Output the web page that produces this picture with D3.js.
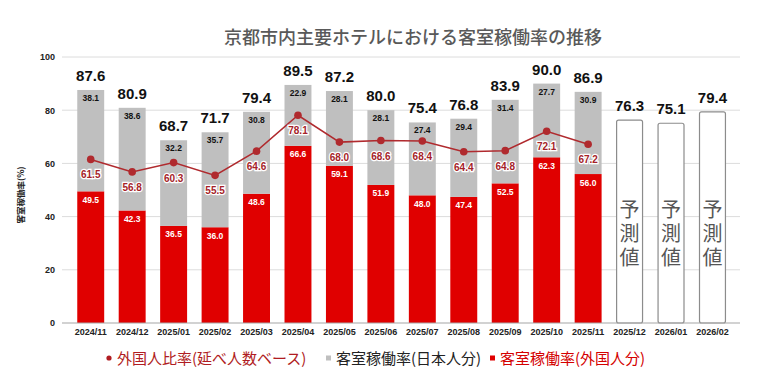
<!DOCTYPE html>
<html><head><meta charset="utf-8">
<script src="https://cdn.jsdelivr.net/npm/d3@7"></script>
<style>
body{margin:0;background:#fff;}
svg{display:block;font-family:"Liberation Sans","Noto Sans CJK JP",sans-serif;}
.jp{font-family:"Noto Sans CJK JP","Noto Sans",sans-serif;}
</style></head>
<body>
<svg id="c" width="784" height="388"></svg>
<script>
const categories = ["2024/11","2024/12","2025/01","2025/02","2025/03","2025/04","2025/05","2025/06","2025/07","2025/08","2025/09","2025/10","2025/11","2025/12","2026/01","2026/02"];
const foreignOcc = [49.5,42.3,36.5,36.0,48.6,66.6,59.1,51.9,48.0,47.4,52.5,62.3,56.0,null,null,null];
const japaneseOcc = [38.1,38.6,32.2,35.7,30.8,22.9,28.1,28.1,27.4,29.4,31.4,27.7,30.9,null,null,null];
const totalOcc = [87.6,80.9,68.7,71.7,79.4,89.5,87.2,80.0,75.4,76.8,83.9,90.0,86.9,76.3,75.1,79.4];
const foreignRatio = [61.5,56.8,60.3,55.5,64.6,78.1,68.0,68.6,68.4,64.4,64.8,72.1,67.2,null,null,null];
const yTicks = [0,20,40,60,80,100];
const title = "京都市内主要ホテルにおける客室稼働率の推移";
const yLabel = "客室稼働率(%)";
const forecastText = "予測値";
const legendItems = ["外国人比率(延べ人数ベース)","客室稼働率(日本人分)","客室稼働率(外国人分)"];

const RED = "#e00000", GREY = "#bfbfbf", LINE = "#b02a2e";
const svg = d3.select("#c");
const x = d3.scaleBand().domain(categories).range([70, 733.2]).paddingInner(0.35).paddingOuter(0.175);
const y = d3.scaleLinear().domain([0,100]).range([323,57]);
const bw = x.bandwidth();
const cx = c => x(c) + bw/2;

// title
svg.append("text").attr("class","jp").attr("x",413).attr("y",44).attr("text-anchor","middle")
  .attr("font-size",18).attr("font-weight",500).attr("fill","#595959").text(title);

// gridlines
svg.append("g").selectAll("line").data(yTicks.filter(t=>t>0)).join("line")
  .attr("x1",62).attr("x2",740).attr("y1",d=>y(d)).attr("y2",d=>y(d))
  .attr("stroke","#dcdcdc").attr("stroke-width",1);

// y axis
const ya = svg.append("g").attr("transform","translate(62,0)")
  .call(d3.axisLeft(y).tickValues(yTicks).tickSize(0).tickPadding(7));
ya.select(".domain").remove();
ya.selectAll("text").attr("font-size",9).attr("font-weight","bold").attr("fill","#222")
  .attr("font-family","Liberation Sans");

svg.append("text").attr("class","jp").attr("transform","translate(24,195) rotate(-90)")
  .attr("text-anchor","middle").attr("font-size",8.5).attr("font-weight","bold").attr("fill","#222").text(yLabel);

const idx = categories.map((c,i)=>i);
// stacked bars
svg.append("g").selectAll("rect").data(idx.filter(i=>foreignOcc[i]!=null)).join("rect")
  .attr("x",i=>x(categories[i])).attr("width",bw)
  .attr("y",i=>y(foreignOcc[i])).attr("height",i=>y(0)-y(foreignOcc[i])).attr("fill",RED);
svg.append("g").selectAll("rect").data(idx.filter(i=>japaneseOcc[i]!=null)).join("rect")
  .attr("x",i=>x(categories[i])).attr("width",bw)
  .attr("y",i=>y(foreignOcc[i]+japaneseOcc[i])).attr("height",i=>y(foreignOcc[i])-y(foreignOcc[i]+japaneseOcc[i])).attr("fill",GREY);
// forecast bars
const fIdx = idx.filter(i=>foreignOcc[i]==null);
svg.append("g").selectAll("rect").data(fIdx).join("rect")
  .attr("x",i=>x(categories[i])+0.5).attr("width",bw-1)
  .attr("y",i=>y(totalOcc[i])).attr("height",i=>y(0)-y(totalOcc[i]))
  .attr("rx",2).attr("fill","#fff").attr("stroke","#8c8c8c").attr("stroke-width",1.2);
svg.append("g").selectAll("text").data(fIdx).join("text").attr("class","jp")
  .attr("x",i=>cx(categories[i])).attr("y",235)
  .attr("text-anchor","middle").attr("writing-mode","vertical-rl")
  .style("writing-mode","vertical-rl").attr("letter-spacing",4)
  .attr("font-size",20).attr("fill","#555").text(forecastText);

// x axis
svg.append("line").attr("x1",62).attr("x2",740).attr("y1",y(0)).attr("y2",y(0)).attr("stroke","#a6a6a6").attr("stroke-width",1.2);
const xa = svg.append("g").attr("transform",`translate(0,${y(0)})`)
  .call(d3.axisBottom(x).tickSize(0).tickPadding(6));
xa.select(".domain").remove();
xa.selectAll("text").attr("font-size",9).attr("font-weight","bold").attr("fill","#222").attr("font-family","Liberation Sans");

// line
const pts = idx.filter(i=>foreignRatio[i]!=null);
svg.append("path").datum(pts)
  .attr("d",d3.line().x(i=>cx(categories[i])).y(i=>y(foreignRatio[i])))
  .attr("fill","none").attr("stroke",LINE).attr("stroke-width",1.5);
svg.append("g").selectAll("circle").data(pts).join("circle")
  .attr("cx",i=>cx(categories[i])).attr("cy",i=>y(foreignRatio[i])).attr("r",3.8).attr("fill",LINE);

// labels
const lab = svg.append("g").attr("font-family","Liberation Sans").attr("font-weight","bold").attr("text-anchor","middle");
lab.selectAll(".tot").data(idx).join("text").attr("class","tot")
  .attr("x",i=>cx(categories[i])).attr("y",i=>y(totalOcc[i])-9)
  .attr("font-size",15).attr("fill","#111").text(i=>totalOcc[i].toFixed(1));
lab.selectAll(".jpn").data(idx.filter(i=>japaneseOcc[i]!=null)).join("text").attr("class","jpn")
  .attr("x",i=>cx(categories[i])).attr("y",i=>y(foreignOcc[i]+japaneseOcc[i])+11)
  .attr("font-size",8.5).attr("fill","#111").text(i=>japaneseOcc[i].toFixed(1));
lab.selectAll(".frn").data(idx.filter(i=>foreignOcc[i]!=null)).join("text").attr("class","frn")
  .attr("x",i=>cx(categories[i])).attr("y",i=>y(foreignOcc[i])+11.5)
  .attr("font-size",8.5).attr("fill","#fff").text(i=>foreignOcc[i].toFixed(1));
lab.selectAll(".rat").data(pts).join("text").attr("class","rat")
  .attr("x",i=>cx(categories[i])).attr("y",i=>y(foreignRatio[i])+19)
  .attr("font-size",10).attr("fill","#a52228").attr("stroke","#fff").attr("stroke-width",2.5)
  .attr("paint-order","stroke").text(i=>foreignRatio[i].toFixed(1));

// legend
const lg = svg.append("g").attr("class","jp").attr("font-size",15);
lg.append("circle").attr("cx",109).attr("cy",358).attr("r",2.6).attr("fill","#b01c22");
lg.append("text").attr("x",117).attr("y",364).attr("fill","#b01c22").text(legendItems[0]);
lg.append("rect").attr("x",326).attr("y",355.5).attr("width",5).attr("height",5).attr("fill",GREY);
lg.append("text").attr("x",336).attr("y",364).attr("fill","#222").text(legendItems[1]);
lg.append("rect").attr("x",490).attr("y",355.5).attr("width",5).attr("height",5).attr("fill",RED);
lg.append("text").attr("x",500).attr("y",364).attr("fill","#d40000").text(legendItems[2]);
</script>
</body></html>
